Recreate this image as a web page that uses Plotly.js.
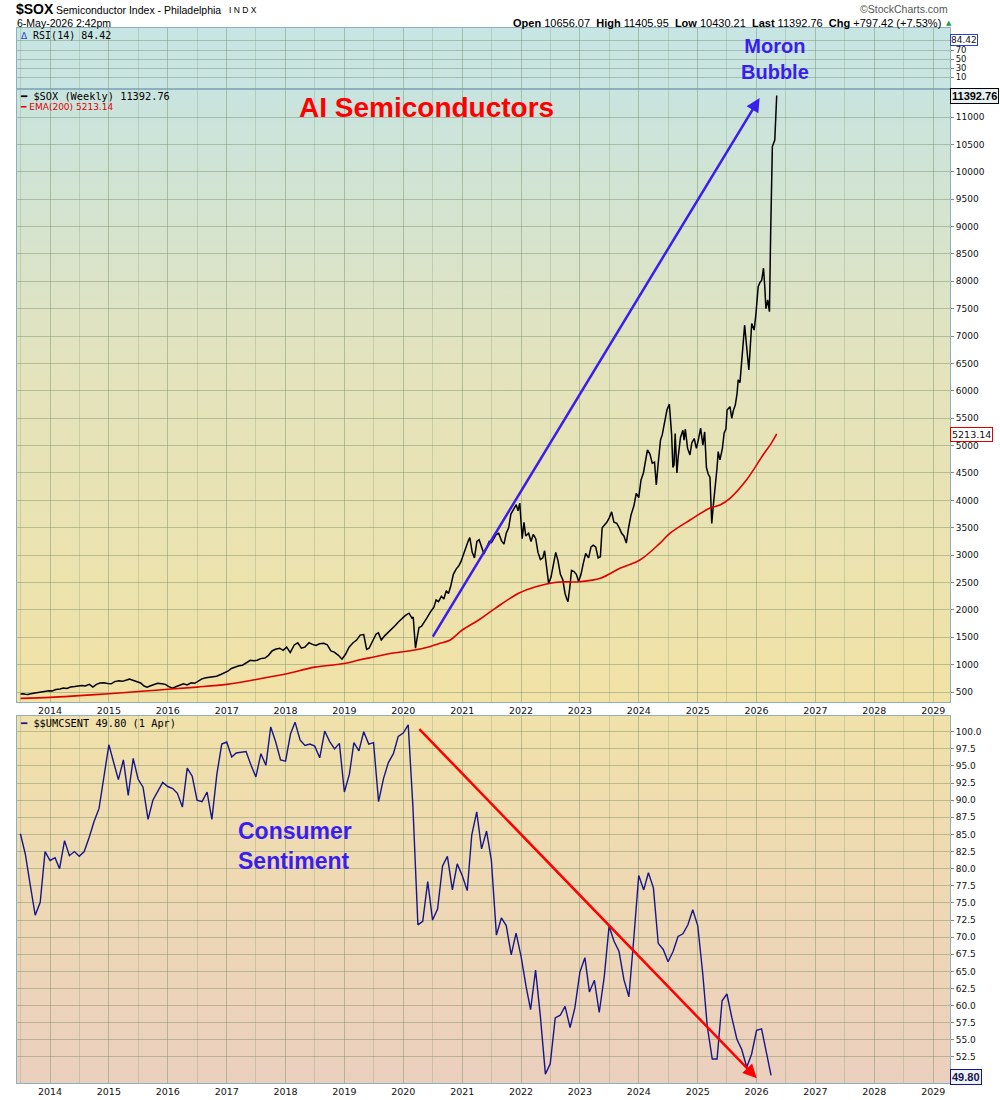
<!DOCTYPE html>
<html>
<head>
<meta charset="utf-8">
<script src="https://cdn.plot.ly/plotly-3.0.1.min.js"></script>
<style>
html,body{margin:0;padding:0;background:#fff;}
#chart{width:1000px;height:1100px;}
</style>
</head>
<body>
<div id="chart"></div>
<script>
// ---------------- DATA ----------------
// $SOX weekly closes (sampled), time as decimal year
const soxT = [2013.50,2013.54,2013.58,2013.63,2013.67,2013.73,2013.79,2013.85,2013.92,2013.98,
2014.04,2014.10,2014.17,2014.23,2014.29,2014.35,2014.42,2014.48,2014.54,2014.60,2014.67,2014.73,2014.79,2014.85,2014.92,2014.98,
2015.04,2015.10,2015.17,2015.23,2015.29,2015.35,2015.42,2015.48,2015.54,2015.60,2015.65,2015.71,2015.77,2015.83,2015.90,2015.96,
2016.02,2016.08,2016.15,2016.21,2016.27,2016.33,2016.40,2016.46,2016.52,2016.58,2016.65,2016.71,2016.77,2016.83,2016.90,2016.96,
2017.02,2017.08,2017.15,2017.21,2017.27,2017.33,2017.40,2017.46,2017.52,2017.58,2017.65,2017.71,2017.77,2017.83,2017.90,2017.96,
2018.02,2018.08,2018.15,2018.21,2018.27,2018.33,2018.40,2018.46,2018.52,2018.58,2018.65,2018.71,2018.77,2018.83,2018.90,2018.96,
2019.02,2019.08,2019.15,2019.21,2019.27,2019.33,2019.38,2019.42,2019.48,2019.54,2019.58,2019.63,2019.69,2019.75,2019.81,2019.87,2019.92,2019.98,
2020.04,2020.10,2020.15,2020.17,2020.19,2020.21,2020.24,2020.27,2020.31,2020.35,2020.40,2020.46,2020.52,2020.56,2020.60,2020.65,2020.69,2020.73,2020.77,2020.81,2020.85,2020.90,2020.94,2020.98,
2021.04,2021.10,2021.13,2021.17,2021.21,2021.25,2021.29,2021.33,2021.37,2021.42,2021.46,2021.50,2021.54,2021.58,2021.62,2021.67,2021.71,2021.75,2021.79,2021.83,2021.88,2021.92,2021.95,2021.98,
2022.02,2022.05,2022.08,2022.13,2022.17,2022.21,2022.25,2022.29,2022.33,2022.37,2022.40,2022.44,2022.47,2022.51,2022.55,2022.59,2022.63,2022.67,2022.71,2022.75,2022.78,2022.80,2022.83,2022.86,2022.90,2022.94,2022.98,
2023.02,2023.06,2023.10,2023.15,2023.19,2023.23,2023.27,2023.31,2023.35,2023.38,2023.42,2023.46,2023.50,2023.54,2023.58,2023.63,2023.67,2023.71,2023.75,2023.79,2023.83,2023.87,2023.92,2023.96,
2024.00,2024.04,2024.08,2024.12,2024.15,2024.19,2024.23,2024.27,2024.30,2024.33,2024.37,2024.40,2024.44,2024.48,2024.52,2024.54,2024.56,2024.58,2024.60,2024.62,2024.65,2024.67,2024.71,2024.75,2024.77,2024.79,2024.83,2024.87,2024.90,2024.94,2024.98,
2025.02,2025.05,2025.09,2025.12,2025.15,2025.18,2025.21,2025.24,2025.27,2025.30,2025.33,2025.35,2025.38,2025.42,2025.45,2025.48,2025.50,2025.55,2025.58,2025.61,2025.64,2025.67,2025.69,2025.72,2025.75,2025.78,2025.80,2025.83,2025.87,2025.90,2025.92,2025.96,2025.99,
2026.03,2026.06,2026.09,2026.12,2026.14,2026.16,2026.19,2026.22,2026.24,2026.27,2026.31,2026.345];
const soxV = [465,470,460,455,470,480,490,500,515,525,
520,545,555,575,565,590,600,615,620,610,640,590,640,665,670,655,
650,690,705,695,720,735,710,690,665,610,590,615,640,660,650,640,
600,570,600,630,650,630,670,660,700,740,760,770,780,790,820,850,
880,930,960,980,990,1030,1080,1070,1080,1110,1120,1170,1250,1280,1300,1260,
1320,1220,1360,1400,1300,1320,1400,1370,1350,1380,1390,1360,1250,1230,1170,1100,
1190,1320,1400,1450,1540,1550,1280,1300,1420,1560,1580,1450,1530,1590,1650,1720,1780,1850,
1900,1940,1850,1870,1620,1300,1500,1680,1700,1780,1850,1960,2050,2180,2150,2250,2200,2350,2300,2450,2650,2750,2800,2880,
3080,3250,3320,3050,2950,3250,3280,3150,3020,3150,3250,3230,3300,3380,3400,3260,3200,3400,3500,3750,3850,3920,3810,3950,
3300,3600,3350,3400,3250,3380,3300,3050,2920,2950,3080,2700,2480,2600,2800,3050,2900,2650,2550,2300,2200,2150,2400,2720,2700,2650,2520,
2650,2850,3030,2950,3150,3180,3150,2950,2970,3500,3550,3600,3680,3790,3600,3580,3500,3400,3350,3220,3500,3730,3900,4130,
4050,4370,4500,4700,4920,4850,4680,4700,4280,4650,5100,5200,5450,5650,5760,5550,5200,4600,4650,5220,4500,4800,5150,5280,5100,5300,4950,4830,5050,5130,4950,
5150,5320,5010,5250,4600,4480,4420,3580,3950,4250,4600,4890,4740,4950,5230,5300,5650,5710,5500,5650,5740,5950,6200,6150,6560,6900,7200,6850,6380,6900,7230,7110,7400,
7900,7980,8020,8240,7900,7500,7660,7445,8815,10460,10580,11392.76];

// EMA(200)
const emaT = [2013.50,2014.00,2014.50,2015.00,2015.50,2016.00,2016.50,2017.00,2017.50,2018.00,2018.50,2019.00,2019.25,2019.50,2019.80,2020.20,2020.45,2020.60,2020.80,2021.00,2021.28,2021.56,2021.96,2022.25,2022.60,2023.00,2023.35,2023.68,2024.02,2024.36,2024.53,2024.87,2025.20,2025.38,2025.55,2025.83,2026.11,2026.25,2026.345];
const emaV = [385,403,435,470,510,550,590,640,730,830,955,1020,1085,1140,1207,1267,1328,1380,1450,1633,1815,2029,2303,2423,2505,2515,2577,2759,2911,3216,3398,3641,3855,3915,4037,4372,4828,5042,5213.14];

// University of Michigan consumer sentiment, monthly from Jul 2013 to Apr 2026
const umcStartYear = 2013, umcStartMonth = 7;
const umcV = [85.1,82.1,77.5,73.2,75.1,82.5,
81.2,81.6,80.0,84.1,81.9,82.5,81.8,82.5,84.6,86.9,88.8,93.6,
98.1,95.4,93.0,95.9,90.7,96.1,93.1,91.9,87.2,90.0,91.3,92.6,
92.0,91.7,91.0,89.0,94.7,93.5,90.0,89.8,91.2,87.2,93.8,98.2,
98.5,96.3,96.9,97.0,97.1,95.1,93.4,96.8,95.1,100.7,98.5,95.9,
95.7,99.7,101.4,98.8,98.0,98.2,97.9,96.2,100.1,98.6,97.5,98.3,
91.2,93.8,98.4,97.2,100.0,98.2,98.4,89.8,93.2,95.5,96.8,99.3,
99.8,101.0,89.1,71.8,72.3,78.1,72.5,74.1,80.4,81.8,76.9,80.7,
79.0,76.8,84.9,88.3,82.9,85.5,81.2,70.3,72.8,71.7,67.4,70.6,
67.2,62.8,59.4,65.2,58.4,50.0,51.5,58.2,58.6,59.9,56.8,59.7,
64.9,67.0,62.0,63.7,59.0,64.2,71.6,69.4,67.9,63.8,61.3,69.7,
79.0,76.9,79.4,77.2,69.1,68.2,66.4,67.9,70.1,70.5,71.8,74.0,
71.7,64.7,57.0,52.2,52.2,60.7,61.7,58.2,55.1,53.6,51.0,52.9,
56.4,56.6,53.3,49.8];

// tick labels
const soxTicks = [500,1000,1500,2000,2500,3000,3500,4000,4500,5000,5500,6000,6500,7000,7500,8000,8500,9000,9500,10000,10500,11000];
const umcTicks = [52.5,55,57.5,60,62.5,65,67.5,70,72.5,75,77.5,80,82.5,85,87.5,90,92.5,95,97.5,100];
const rsiTicks = [10,30,50,70,90];
const rsiTickText = ['10','30','50','70',''];

// ---------------- HELPERS ----------------
function yd(t){
  const y = Math.floor(t), f = t - y;
  const a = Date.UTC(y,0,1), b = Date.UTC(y+1,0,1);
  return new Date(a + f*(b-a)).toISOString().slice(0,10);
}
const soxX = soxT.map(yd);
const emaX = emaT.map(yd);
const umcX = umcV.map((v,i)=>{
  const m = umcStartMonth - 1 + i;
  const yy = umcStartYear + Math.floor(m/12), mm = (m%12)+1;
  return yy + '-' + String(mm).padStart(2,'0') + '-01';
});

const H = 1100, L = 17, R = 950;
const px = p => (p - L)/(R - L);
const py = p => 1 - p/H;

function grad(stops){
  let s = "<svg xmlns='http://www.w3.org/2000/svg' width='10' height='100' preserveAspectRatio='none'><defs><linearGradient id='g' x1='0' y1='0' x2='0' y2='1'>";
  stops.forEach(st => { s += "<stop offset='"+st[0]+"' stop-color='"+st[1]+"'/>"; });
  s += "</linearGradient></defs><rect width='10' height='100' fill='url(#g)'/></svg>";
  return 'data:image/svg+xml;charset=utf-8,' + encodeURIComponent(s);
}
function bgImage(top, bottom, stops){
  return {source: grad(stops), xref:'paper', yref:'paper', x:0, y:py(top), sizex:1, sizey:(bottom-top)/H,
          xanchor:'left', yanchor:'top', sizing:'stretch', layer:'below'};
}

// ---------------- TRACES ----------------
const traces = [
  {x: soxX, y: soxV, type:'scatter', mode:'lines', xaxis:'x', yaxis:'y', line:{color:'#000000', width:1.5}, hoverinfo:'skip'},
  {x: emaX, y: emaV, type:'scatter', mode:'lines', xaxis:'x', yaxis:'y', line:{color:'#e00000', width:1.6, shape:'spline'}, hoverinfo:'skip'},
  {x: umcX, y: umcV, type:'scatter', mode:'lines', xaxis:'x2', yaxis:'y2', line:{color:'#16168c', width:1.4}, hoverinfo:'skip'},
  {x: [], y: [], type:'scatter', mode:'lines', xaxis:'x3', yaxis:'y3', line:{color:'#2040e0', width:1}, hoverinfo:'skip'}
];

// ---------------- AXES ----------------
const gridC = 'rgba(110,135,95,0.42)';
const gridMinor = 'rgba(110,135,95,0.25)';
const borderC = '#8db0be';
const tickFont = {family:'DejaVu Sans, Verdana, sans-serif', size:9.5, color:'#111'};
const xBase = {
  type:'date', range:['2013-06-10','2029-04-15'], tickformat:'%Y', dtick:'M12', tick0:'2014-01-01',
  showgrid:true, gridcolor:gridC, gridwidth:1, zeroline:false,
  minor:{dtick:'M6', tick0:'2013-07-01', showgrid:true, gridcolor:gridMinor, gridwidth:1, ticks:''},
  showline:true, linecolor:borderC, linewidth:1, mirror:true, ticks:'', tickfont:tickFont, fixedrange:true
};
const yBase = {
  side:'right', showgrid:true, gridcolor:gridC, gridwidth:1, zeroline:false,
  showline:true, linecolor:borderC, linewidth:1, mirror:true,
  ticks:'outside', ticklen:3, tickcolor:'#8a8a8a', tickfont:{family:'DejaVu Sans, Verdana, sans-serif', size:9, color:'#111'},
  fixedrange:true
};

const layout = {
  width:1000, height:1100,
  margin:{l:L, r:1000-R, t:0, b:0, pad:0},
  paper_bgcolor:'#ffffff', plot_bgcolor:'rgba(0,0,0,0)',
  showlegend:false,
  xaxis: Object.assign({}, xBase, {domain:[0,1], anchor:'y'}),
  xaxis2: Object.assign({}, xBase, {domain:[0,1], anchor:'y2', matches:'x'}),
  xaxis3: Object.assign({}, xBase, {domain:[0,1], anchor:'y3', matches:'x', showticklabels:false}),
  yaxis: Object.assign({}, yBase, {domain:[py(702), py(89)], range:[318, 11512], tickvals:soxTicks, ticktext:soxTicks.map(String)}),
  yaxis2: Object.assign({}, yBase, {domain:[py(1083), py(716)], range:[48.7, 102.3], tickvals:umcTicks, tickformat:'.1f'}),
  yaxis3: Object.assign({}, yBase, {domain:[py(89), py(28)], range:[-15.1, 118], tickvals:rsiTicks, ticktext:rsiTickText,
    tickfont:{family:'DejaVu Sans, Verdana, sans-serif', size:8.5, color:'#111'}}),
  images: [
    bgImage(28, 89, [[0,'#c7e5e3'],[1,'#c9e5e1']]),
    bgImage(89, 702, [[0,'#c8e4df'],[0.45,'#e3e3bd'],[1,'#f1e2a6']]),
    bgImage(716, 1083, [[0,'#f0e1aa'],[1,'#ebcfbe']])
  ],
  annotations: []
};

const A = layout.annotations;
const hdrFont = 'Liberation Sans, Arial, sans-serif';
const mono = 'DejaVu Sans Mono, monospace';
function txt(text, xp, yp, opts){
  A.push(Object.assign({text:text, xref:'paper', yref:'paper', x:px(xp), y:py(yp), showarrow:false,
    xanchor:'left', yanchor:'middle', font:{family:hdrFont, size:11, color:'#000'}}, opts||{}));
}
// header
txt('<b>$SOX</b>', 14, 9, {font:{family:hdrFont, size:14, color:'#000'}});
txt('Semiconductor Index - Philadelphia', 54, 10, {font:{family:hdrFont, size:10.5, color:'#000'}});
txt('I N D X', 227, 10, {font:{family:hdrFont, size:8.5, color:'#000'}});
txt('6-May-2026 2:42pm', 15, 23, {font:{family:hdrFont, size:10.5, color:'#000'}});
txt('\u00a9StockCharts.com', 950, 9, {xanchor:'right', font:{family:hdrFont, size:10.5, color:'#555'}});
txt('<b>Open</b> 10656.07  <b>High</b> 11405.95  <b>Low</b> 10430.21  <b>Last</b> 11392.76  <b>Chg</b> +797.42 (+7.53%)', 943, 23, {xanchor:'right', font:{family:hdrFont, size:11, color:'#000'}});
txt('\u25B2', 944, 23, {font:{family:'DejaVu Sans', size:7, color:'#2a9a3a'}});

// panel legends
txt('<span style="color:#2a4be0">\u2206</span> RSI(14) 84.42', 18, 35, {font:{family:mono, size:10, color:'#000'}});
txt('<b>\u2501</b> $SOX (Weekly) 11392.76', 18, 96, {font:{family:mono, size:10.3, color:'#000'}});
txt('<b>\u2501</b> EMA(200) 5213.14', 18, 107, {font:{family:'DejaVu Sans, Verdana, sans-serif', size:9, color:'#e00000'}});
txt('<span style="color:#16168c"><b>\u2501</b></span> $$UMCSENT 49.80 (1 Apr)', 18, 723, {font:{family:mono, size:10.3, color:'#000'}});

// right value tags
function tag(text, yp, border, bg, color, size, fam, pad){
  A.push({text:text, xref:'paper', yref:'paper', x:px(950), y:py(yp), showarrow:false, xanchor:'left', yanchor:'middle',
    bordercolor:border, borderwidth:1, borderpad:(pad===undefined?1:pad), bgcolor:bg, font:{family:fam||'DejaVu Sans, Verdana, sans-serif', size:size||9.5, color:color}});
}
tag('84.42', 40, '#2a40d8', '#ffffff', '#111', 9, null, 0);
tag('<b>11392.76</b>', 96, '#000000', '#e6f2f1', '#000', 11, hdrFont);
tag('5213.14', 434, '#e00000', '#ffffff', '#111');
tag('<b>49.80</b>', 1077, '#16168c', '#eef2f8', '#16164c', 11, hdrFont);

// big labels
A.push({text:'<b>AI Semiconductors</b>', xref:'paper', yref:'paper', x:px(426), y:py(108), showarrow:false,
  xanchor:'center', yanchor:'middle', font:{family:hdrFont, size:28, color:'#ff0000'}});
A.push({text:'<b>Moron<br>Bubble</b>', xref:'paper', yref:'paper', x:px(775), y:py(59), showarrow:false,
  xanchor:'center', yanchor:'middle', align:'center', font:{family:hdrFont, size:20, color:'#3a1ef0'}});
A.push({text:'<b>Consumer<br>Sentiment</b>', xref:'paper', yref:'paper', x:px(236), y:py(846), showarrow:false,
  xanchor:'left', yanchor:'middle', align:'left', font:{family:hdrFont, size:23, color:'#3a1ef0'}});

// arrows
A.push({xref:'x', yref:'y', axref:'x', ayref:'y', x:'2026-01-20', y:11348, ax:'2020-06-27', ay:1486,
  text:'', showarrow:true, arrowhead:2, arrowsize:1.1, arrowwidth:2.5, arrowcolor:'#3a1ef0'});
A.push({xref:'x2', yref:'y2', axref:'x2', ayref:'y2', x:'2026-01-02', y:49.4, ax:'2020-04-01', ay:100.6,
  text:'', showarrow:true, arrowhead:2, arrowsize:1.1, arrowwidth:2.5, arrowcolor:'#ff0000'});

Plotly.newPlot('chart', traces, layout, {displayModeBar:false, staticPlot:true});
</script>
</body>
</html>
